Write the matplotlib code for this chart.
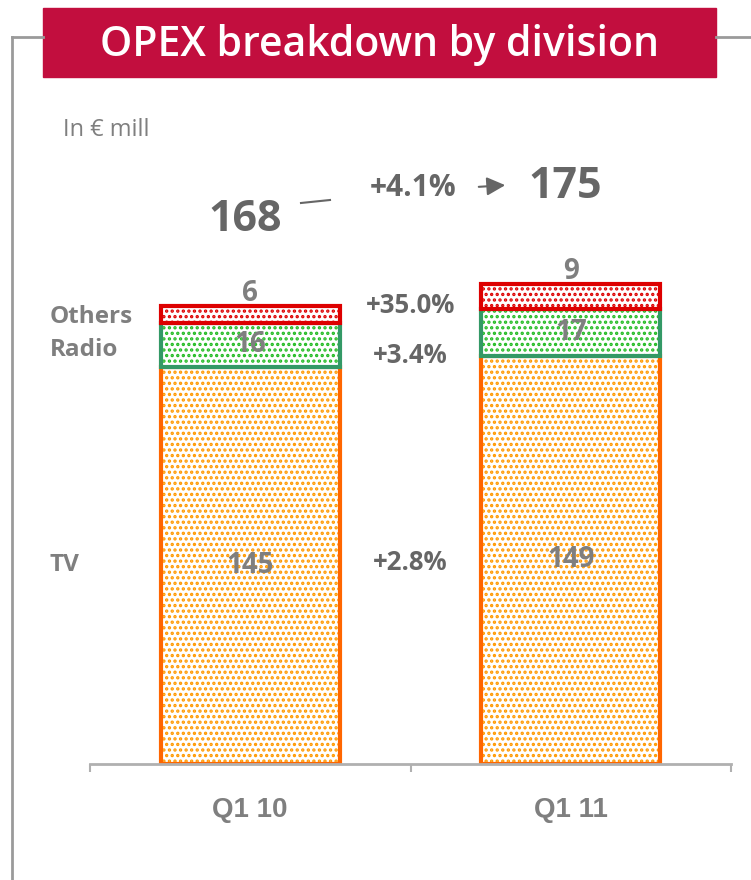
import matplotlib.pyplot as plt
import numpy as np
from matplotlib.patches import Rectangle
from matplotlib.lines import Line2D

quarters = ['Q1 10', 'Q1 11']
divisions = ['TV', 'Radio', 'Others']
tv = [145, 149]
radio = [16, 17]
others = [6, 9]
totals = [168, 175]
growth = ['+2.8%', '+3.4%', '+35.0%']
total_growth = '+4.1%'

W, H = 751, 880
plt.rcParams['hatch.linewidth'] = 1.6

fig = plt.figure(figsize=(W / 100, H / 100), dpi=100)

# pixel helpers (y measured from the top of the image)
def fx(x):
    return x / W
def fy(y):
    return 1 - y / H

gray = '#7F7F7F'
dark = '#666666'
num_font = 'Open Sans'

# frame and title banner
for xs, ys in [([12, 12], [37, 880]), ([12, 43], [37, 37]), ([716, 751], [37, 37])]:
    fig.add_artist(Line2D([fx(v) for v in xs], [fy(v) for v in ys], color='#9A9A9A', lw=2))
fig.add_artist(Rectangle((fx(43), fy(77)), fx(716) - fx(43), (77 - 8) / H,
                         color='#C20E3E', transform=fig.transFigure))
fig.text(fx(380), fy(45), 'OPEX breakdown by division', color='white', fontsize=29.5,
         family=num_font, weight='semibold', ha='center', va='center')
fig.text(fx(63), fy(130), 'In € mill', color=gray, fontsize=17, family=num_font,
         ha='left', va='center')

ax = fig.add_axes([fx(90), fy(764), fx(731) - fx(90), (764 - 216) / H])
ax.set_xlim(-0.5, 1.5)
ax.set_ylim(0, 200)

x = np.arange(len(quarters))
width = 0.56
layers = [(tv, '#FF9900', '#FF6600'),
          (radio, '#22BB22', '#339966'),
          (others, '#DD0000', '#DD0000')]
bottom = np.zeros(len(quarters))
mids = []
for vals, dot, edge in layers:
    vals = np.array(vals, dtype=float)
    ax.bar(x, vals, width, bottom=bottom, color='white', edgecolor=dot, hatch='...', linewidth=0)
    ax.bar(x, vals, width, bottom=bottom, fill=False, edgecolor=edge, linewidth=3)
    mids.append(bottom + vals / 2)
    bottom = bottom + vals
tops = bottom

# value labels
for k, (vals, _, _) in enumerate(layers):
    for i in range(len(quarters)):
        if k == 2:
            y = tops[i] + 4.7
        else:
            y = mids[k][i]
        ax.text(x[i], y, str(vals[i]), ha='center', va='center', fontsize=20,
                weight='bold', family=num_font, color=gray, clip_on=False)

# division names on the left and growth rates between the bars
name_nudge = [0, -2, -1]
rate_nudge = [0, -6, 0]
for k, name in enumerate(divisions):
    ax.text(-0.625, mids[k][0] + name_nudge[k], name, ha='left', va='center', fontsize=17.5,
            weight='bold', family=num_font, color=gray, clip_on=False)
    ax.text(0.5, mids[k].mean() + rate_nudge[k], growth[k], ha='center', va='center',
            fontsize=18.5, weight='bold', family=num_font, color=dark, clip_on=False)

# totals with the growth arrow
fig.text(fx(245), fy(219), str(totals[0]), ha='center', va='center', fontsize=31,
         weight='bold', family=num_font, color=dark)
fig.text(fx(565), fy(187), str(totals[1]), ha='center', va='center', fontsize=31,
         weight='bold', family=num_font, color=dark)
fig.text(fx(413), fy(188), total_growth, ha='center', va='center', fontsize=21.5,
         weight='bold', family=num_font, color=dark)
fig.add_artist(Line2D([fx(301), fx(330)], [fy(203), fy(200)], color=dark, lw=1.5))
ax.annotate('', xy=(fx(508), fy(185)), xytext=(fx(476), fy(187)),
            xycoords='figure fraction', textcoords='figure fraction',
            arrowprops=dict(arrowstyle='-|>', color=dark, lw=1.5, mutation_scale=28))

# axis styling
for side in ['left', 'right', 'top']:
    ax.spines[side].set_visible(False)
ax.spines['bottom'].set_color('#B0B0B0')
ax.spines['bottom'].set_linewidth(2)
ax.set_yticks([])
ax.set_xticks(x, quarters)
ax.set_xticks([-0.5, 0.5, 1.5], minor=True)
ax.tick_params(axis='x', which='major', length=0, pad=24)
ax.tick_params(axis='x', which='minor', length=6, width=1.5, color='#B0B0B0')
for lab in ax.get_xticklabels():
    lab.set_fontsize(20)
    lab.set_fontweight('bold')
    lab.set_family('Liberation Sans')
    lab.set_color(gray)

fig.savefig('out.png', dpi=100)
